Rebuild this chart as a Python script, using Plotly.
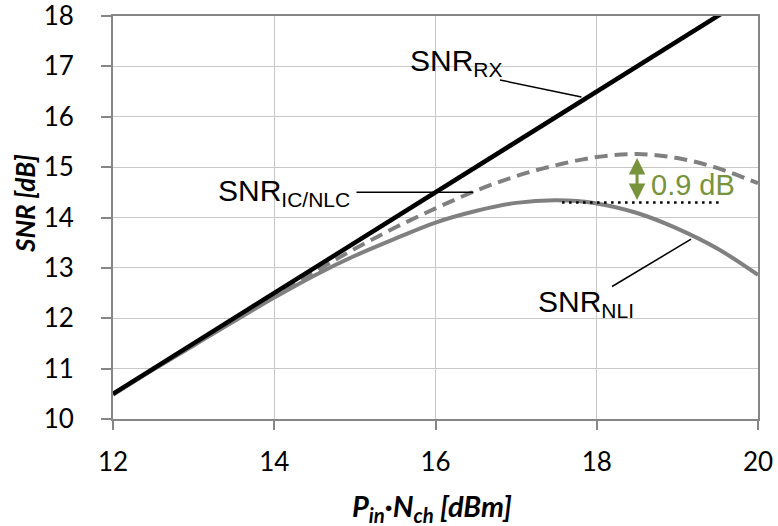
import plotly.graph_objects as go

# ---- data ----
x_rx = [12, 14, 16, 18, 20]
snr_rx = [10.5, 12.5, 14.5, 16.5, 18.5]

x_curve = [12, 12.5, 13, 13.5, 14, 14.5, 15, 15.5, 16, 16.5, 17, 17.5, 18, 18.5, 19, 19.5, 20]
snr_nli = [10.48, 10.98, 11.46, 11.94, 12.41, 12.85, 13.24, 13.58, 13.9, 14.13, 14.29, 14.34, 14.28, 14.09, 13.78, 13.38, 12.86]
snr_icnlc = [10.5, 10.99, 11.48, 11.97, 12.45, 12.92, 13.38, 13.8, 14.18, 14.53, 14.82, 15.04, 15.2, 15.26, 15.18, 14.98, 14.68]

# reference level (peak of SNR_NLI) and gain arrow
ref_x = [17.57, 19.53]
ref_y = [14.3, 14.3]
gain_x = 18.5
gain_y = [14.32, 15.18]
gain_label = "0.9 dB"

# leader lines for labels: (x0, y0, x1, y1)
leader_rx = [16.80, 16.73, 17.81, 16.39]
leader_ic = [15.02, 14.50, 16.47, 14.50]
leader_nli = [18.19, 12.63, 19.17, 13.57]

x_ticks = [12, 14, 16, 18, 20]
y_ticks = [10, 11, 12, 13, 14, 15, 16, 17, 18]

GRAY = "#808080"
AXIS = "#868686"
GRID = "#c8c8c8"
GREEN = "#77933C"
LABEL_FONT = dict(family="Liberation Sans, Arial", size=30, color="black")

W, H = 778, 526
ML, MR, MT, MB = 113, 20, 16, 107

fig = go.Figure()
fig.add_trace(go.Scatter(x=x_curve, y=snr_nli, mode="lines", line=dict(color=GRAY, width=4, shape="spline"), showlegend=False))
fig.add_trace(go.Scatter(x=x_curve, y=snr_icnlc, mode="lines", line=dict(color=GRAY, width=4, dash="13px,7px", shape="spline"), showlegend=False))
fig.add_trace(go.Scatter(x=x_rx, y=snr_rx, mode="lines", line=dict(color="black", width=4.5), showlegend=False))
fig.add_trace(go.Scatter(x=ref_x, y=ref_y, mode="lines", line=dict(color="black", width=2.5, dash="2.5px,4.5px"), showlegend=False))

for l in (leader_rx, leader_ic, leader_nli):
    fig.add_shape(type="line", xref="x", yref="y", x0=l[0], y0=l[1], x1=l[2], y1=l[3],
                  line=dict(color="black", width=1.5))

# double-headed gain arrow
fig.add_annotation(x=gain_x, y=gain_y[1], ax=gain_x, ay=gain_y[0], xref="x", yref="y", axref="x", ayref="y",
                   text="", showarrow=True, arrowside="end+start", arrowhead=2, startarrowhead=2,
                   arrowsize=1.1, startarrowsize=1.1, arrowwidth=3, arrowcolor=GREEN, standoff=0, startstandoff=0)
fig.add_annotation(x=18.65, y=14.65, xref="x", yref="y", text=gain_label, showarrow=False,
                   xanchor="left", yanchor="middle", font=dict(family="Liberation Sans, Arial", size=29, color=GREEN))

fig.add_annotation(x=15.66, y=17.07, xref="x", yref="y", text="SNR<sub>RX</sub>", showarrow=False,
                   xanchor="left", yanchor="middle", font=LABEL_FONT)
fig.add_annotation(x=13.28, y=14.5, xref="x", yref="y", text="SNR<sub>IC/NLC</sub>", showarrow=False,
                   xanchor="left", yanchor="middle", font=LABEL_FONT)
fig.add_annotation(x=17.25, y=12.3, xref="x", yref="y", text="SNR<sub>NLI</sub>", showarrow=False,
                   xanchor="left", yanchor="middle", font=LABEL_FONT)

# axis titles (positions given in pixels, converted to paper coords)
def px_to_paper(px, py):
    return (px - ML) / (W - ML - MR), 1 - (py - MT) / (H - MT - MB)

yx, yy = px_to_paper(25, 204)
fig.add_annotation(x=yx, y=yy, xref="paper", yref="paper", text="<b><i>SNR [dB]</i></b>", showarrow=False,
                   xanchor="center", yanchor="middle",
                   textangle=-90, font=dict(family="Lato", size=26, color="black"))
xx, xy = px_to_paper(432, 507)
fig.add_annotation(x=xx, y=xy, xref="paper", yref="paper", text="<b><i>P<sub>in</sub>·N<sub>ch</sub> [dBm]</i></b>",
                   xanchor="center", yanchor="middle",
                   showarrow=False, font=dict(family="Lato", size=29, color="black"))

fig.update_xaxes(range=[12, 20], tickvals=x_ticks, showgrid=True, gridcolor=GRID, gridwidth=1.3,
                 showline=True, linecolor=AXIS, linewidth=2, mirror=True, ticks="outside", ticklen=9,
                 tickcolor=AXIS, tickwidth=1.5, zeroline=False, ticklabeloverflow="allow", automargin=False,
                 tickfont=dict(family="Lato", size=26, color="black"), ticklabelstandoff=10)
fig.update_yaxes(range=[10, 18], tickvals=y_ticks, showgrid=True, gridcolor=GRID, gridwidth=1.3,
                 showline=True, linecolor=AXIS, linewidth=2, mirror=True, ticks="outside", ticklen=10,
                 tickcolor=AXIS, tickwidth=1.5, zeroline=False, ticklabeloverflow="allow", automargin=False,
                 tickfont=dict(family="Lato", size=26, color="black"), ticklabelstandoff=22)
fig.update_layout(width=W, height=H, margin=dict(l=ML, r=MR, t=MT, b=MB, autoexpand=False),
                  plot_bgcolor="white", paper_bgcolor="white")
fig.write_html("out.html", config={"displayModeBar": False},
               post_script="document.body.style.margin='0';")
